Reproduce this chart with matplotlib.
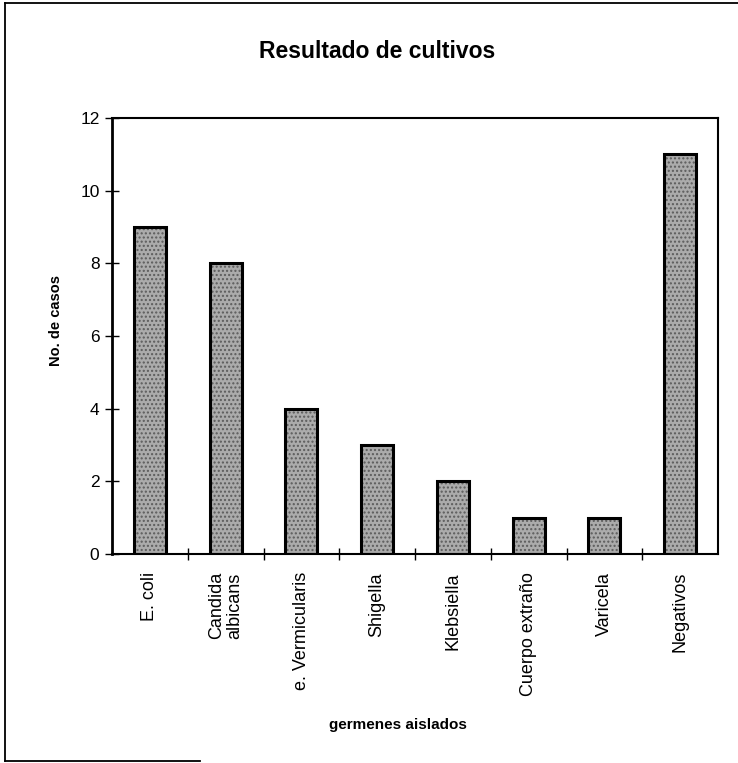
import matplotlib.pyplot as plt
from matplotlib.lines import Line2D
import numpy as np

plt.rcParams['font.family'] = ['Liberation Sans', 'DejaVu Sans']
plt.rcParams['hatch.linewidth'] = 1.0

germenes = ["E. coli", "Candida\nalbicans", "e. Vermicularis", "Shigella",
            "Klebsiella", "Cuerpo extraño", "Varicela", "Negativos"]
casos = [9, 8, 4, 3, 2, 1, 1, 11]

fig = plt.figure(figsize=(7.38, 7.63), dpi=100)
ax = fig.add_axes([112/738, 1-554/763, 606/738, 436/763])

x = np.arange(len(germenes))
# speckled grey fill, then the black outline on top
ax.bar(x, casos, width=0.42, color="#ababab", edgecolor="#5c5c5c", linewidth=0,
       hatch="....")
ax.bar(x, casos, width=0.42, fill=False, edgecolor="black", linewidth=2.2)

ax.set_xlim(-0.5, len(germenes) - 0.5)
ax.set_ylim(0, 12)
ax.set_yticks(range(0, 13, 2))
ax.set_xticks(x)
ax.set_xticklabels(germenes, rotation=90, fontsize=13, linespacing=1.15)
ax.set_xticks(x[:-1] + 0.5, minor=True)
ax.tick_params(axis="x", which="major", length=0, pad=13)
ax.tick_params(axis="x", which="minor", direction="inout", length=9, width=1)
ax.tick_params(axis="y", direction="inout", length=10, width=1, labelsize=12.5, pad=4)

for s in ax.spines.values():
    s.set_linewidth(1.5)
ax.spines["left"].set_linewidth(2)

ax.set_ylabel("No. de casos", fontsize=10.5, fontweight="bold")
ax.yaxis.set_label_coords(-(112-63)/606, (554-321)/436)
ax.set_xlabel("germenes aislados", fontsize=11, fontweight="bold")
ax.xaxis.set_label_coords((398-112)/606, -(718-554)/436)
fig.text(377/738, 1-52/763, "Resultado de cultivos", ha="center", va="center",
         fontsize=16.5, fontweight="bold")

# outer frame of the scanned page (top and left full, bottom partial)
for xs, ys in [([5, 738], [3, 3]), ([5, 5], [3, 761]), ([5, 200], [761, 761])]:
    fig.lines.append(Line2D([v/738 for v in xs], [1-v/763 for v in ys],
                            transform=fig.transFigure, color="black", linewidth=1.3))

fig.savefig("out.png", dpi=100)
